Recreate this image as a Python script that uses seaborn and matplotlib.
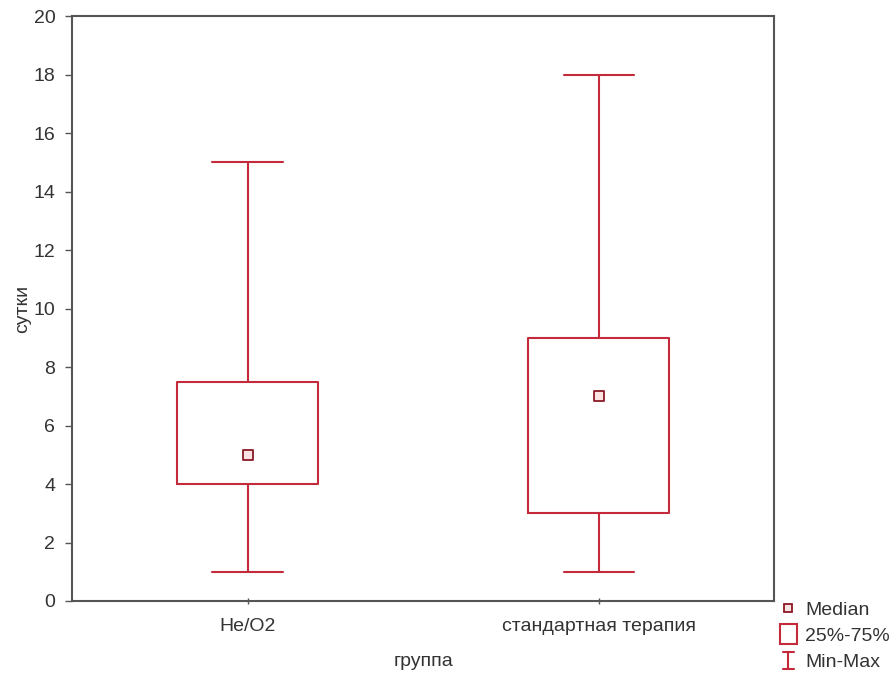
import matplotlib
matplotlib.use("Agg")
import matplotlib.pyplot as plt
import seaborn as sns
import pandas as pd
from matplotlib.lines import Line2D
from matplotlib.patches import Rectangle
from matplotlib.legend_handler import HandlerBase

# ---- data (five-number summaries) ----
groups = ["He/O2", "стандартная терапия"]
mins = [1, 1]
q1s = [4, 3]
medians = [5, 7]
q3s = [7.5, 9]
maxs = [15, 18]
y_ticks = [0, 2, 4, 6, 8, 10, 12, 14, 16, 18, 20]

rows = []
for g, a, b, c, d, e in zip(groups, mins, q1s, medians, q3s, maxs):
    for v in (a, b, c, d, e):
        rows.append({"группа": g, "сутки": v})
df = pd.DataFrame(rows)
med_df = pd.DataFrame({"группа": groups, "сутки": medians})

sns.set_style("ticks")
plt.rcParams["font.family"] = ["Liberation Sans", "DejaVu Sans"]

RED = "#c42a3c"
DARK = "#8a1a26"
SPINE = "#555555"
TXT = "#333333"
FS = 14

fig = plt.figure(figsize=(8.94, 6.73), dpi=100)
ax = fig.add_axes([0.0805, 0.107, 0.7855, 0.869])

sns.boxplot(data=df, x="группа", y="сутки", order=groups, whis=(0, 100),
            width=0.4, fill=False, color=RED, linecolor=RED, linewidth=1.5,
            medianprops={"linewidth": 0, "alpha": 0}, showfliers=False, ax=ax)
sns.scatterplot(data=med_df, x="группа", y="сутки", marker="s", s=45,
                color="#fbe3e3", edgecolor=DARK, linewidth=1.3, ax=ax,
                zorder=5, legend=False)

ax.set_xlim(-0.5, 1.5)
ax.set_ylim(0, 20)
ax.set_yticks(y_ticks)
ax.set_yticklabels([str(t) for t in y_ticks])
for s in ax.spines.values():
    s.set_visible(True)
    s.set_color(SPINE)
    s.set_linewidth(1.5)
ax.tick_params(axis="y", direction="out", length=5, width=1, color=SPINE,
               labelsize=FS, labelcolor=TXT, pad=7)
ax.tick_params(axis="x", direction="inout", length=4, width=1, color=SPINE,
               labelsize=FS, labelcolor=TXT, pad=10)
ax.set_xlabel("группа", fontsize=FS, color=TXT)
ax.set_ylabel("сутки", fontsize=FS, color=TXT)
ax.yaxis.set_label_coords(-0.058, 0.5)
ax.xaxis.set_label_coords(0.5, -0.089)


class IBeamHandler(HandlerBase):
    def create_artists(self, legend, orig_handle, xdescent, ydescent,
                       width, height, fontsize, trans):
        cx = width / 2 - xdescent
        h = height * 1.2
        y0 = -ydescent - (h - height) / 2
        w = width * 0.55
        lines = [
            Line2D([cx, cx], [y0, y0 + h], color=RED, lw=1.5),
            Line2D([cx - w / 2, cx + w / 2], [y0, y0], color=RED, lw=1.5),
            Line2D([cx - w / 2, cx + w / 2], [y0 + h, y0 + h], color=RED, lw=1.5),
        ]
        for l in lines:
            l.set_transform(trans)
        return lines


class RectHandler(HandlerBase):
    def create_artists(self, legend, orig_handle, xdescent, ydescent,
                       width, height, fontsize, trans):
        h = height * 1.45
        w = width * 0.85
        r = Rectangle((width / 2 - xdescent - w / 2, -ydescent - (h - height) / 2),
                      w, h, facecolor="white", edgecolor=RED, lw=1.5, transform=trans)
        return [r]


class IBeam:
    pass


class Box:
    pass


med_handle = Line2D([], [], marker="s", linestyle="none", markersize=6,
                    markerfacecolor="#fbe3e3", markeredgecolor=DARK, markeredgewidth=1.3)
leg = fig.legend([med_handle, Box(), IBeam()], ["Median", "25%-75%", "Min-Max"],
                 handler_map={IBeam: IBeamHandler(), Box: RectHandler()},
                 loc="upper left", bbox_to_anchor=(0.871, 0.107), frameon=False,
                 fontsize=FS, handlelength=1.0, handletextpad=0.35, labelspacing=0.45,
                 borderaxespad=0, borderpad=0)
for t in leg.get_texts():
    t.set_color(TXT)

fig.savefig("out.png", dpi=100, facecolor="white")
